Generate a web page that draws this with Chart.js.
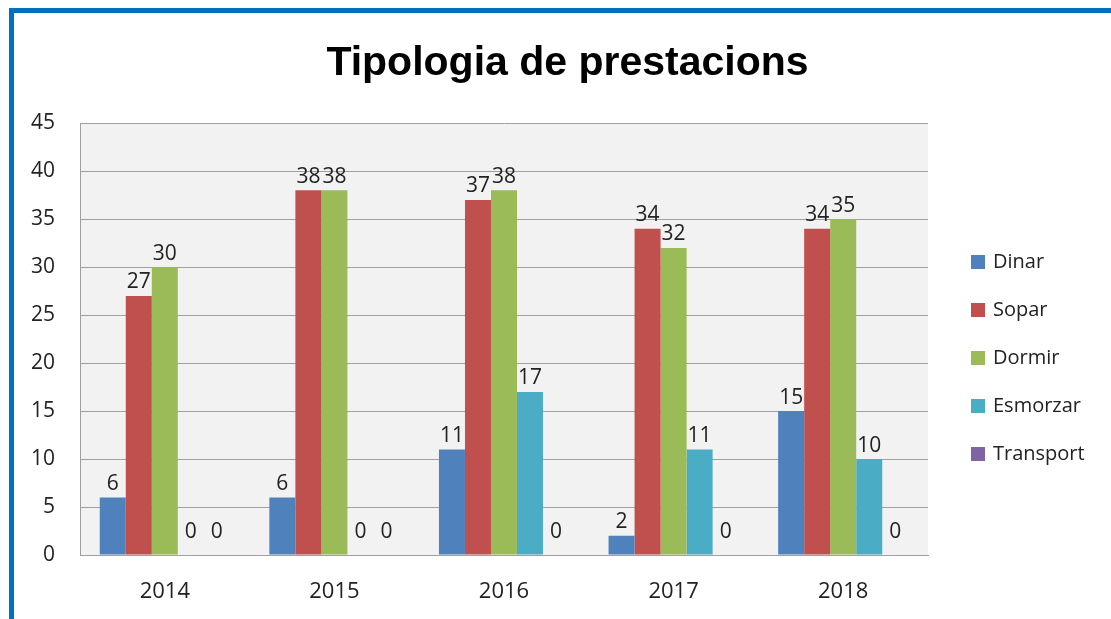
<!DOCTYPE html>
<html>
<head>
<meta charset="utf-8">
<script src="https://cdn.jsdelivr.net/npm/chart.js@4.4.1/dist/chart.umd.min.js"></script>
<style>
body{margin:0;background:#fff;overflow:hidden}
#frame{position:absolute;left:9px;top:8px;right:-10px;bottom:-10px;border-left:5px solid #0070c0;border-top:5px solid #0070c0}
canvas{position:absolute;left:0;top:0}
</style>
</head>
<body>
<div id="frame"></div>
<canvas id="myChart" width="1111" height="619"></canvas>
<script>
let years = ['2014', '2015', '2016', '2017', '2018'];
let dinar = [6, 6, 11, 2, 15];
let sopar = [27, 38, 37, 34, 34];
let dormir = [30, 38, 38, 32, 35];
let esmorzar = [0, 0, 17, 11, 10];
let transport = [0, 0, 0, 0, 0];
let seriesNames = ['Dinar', 'Sopar', 'Dormir', 'Esmorzar', 'Transport'];
let seriesColors = ['#4f81bd', '#c0504d', '#9bbb59', '#4bacc6', '#8064a2'];

const font = "'Open Sans', 'Liberation Sans', sans-serif";

// gray plot background
const plotBg = {
    id: 'plotBg',
    beforeDraw(chart) {
        const a = chart.chartArea;
        const c = chart.ctx;
        c.save();
        c.fillStyle = '#f2f2f2';
        c.fillRect(a.left, a.top, a.right - a.left, a.bottom - a.top);
        c.restore();
    }
};

// title spans the whole frame, not just the plot
const wideTitle = {
    id: 'wideTitle',
    afterLayout(chart) {
        chart.titleBlock.left = 24;
        chart.titleBlock.right = chart.width;
    }
};

// value labels above each bar
const valueLabels = {
    id: 'valueLabels',
    afterDatasetsDraw(chart) {
        const c = chart.ctx;
        c.save();
        c.font = '21px ' + font;
        c.fillStyle = '#222';
        c.textAlign = 'center';
        c.textBaseline = 'bottom';
        chart.data.datasets.forEach((ds, i) => {
            chart.getDatasetMeta(i).data.forEach((bar, j) => {
                let lift = ds.data[j] === 0 ? 12 : 3;
                c.fillText(ds.data[j], bar.x, bar.y - lift);
            });
        });
        c.restore();
    }
};

// legend on the right
const sideLegend = {
    id: 'sideLegend',
    afterDraw(chart) {
        const c = chart.ctx;
        c.save();
        c.font = '20px ' + font;
        c.textBaseline = 'middle';
        chart.data.datasets.forEach((ds, i) => {
            let y = 262 + i * 48;
            c.fillStyle = ds.backgroundColor;
            c.fillRect(971, y - 7, 14, 14);
            c.fillStyle = '#222';
            c.fillText(ds.label, 993, y);
        });
        c.restore();
    }
};

let allData = [dinar, sopar, dormir, esmorzar, transport];

new Chart(document.getElementById('myChart'), {
    type: 'bar',
    data: {
        labels: years,
        datasets: allData.map((d, i) => ({
            label: seriesNames[i],
            data: d,
            backgroundColor: seriesColors[i],
            categoryPercentage: 0.767,
            barPercentage: 1
        }))
    },
    options: {
        responsive: false,
        animation: false,
        layout: { padding: { left: 0, right: 183, top: 0, bottom: 0 } },
        plugins: {
            legend: { display: false },
            tooltip: { enabled: false },
            title: {
                display: true,
                text: 'Tipologia de prestacions',
                color: '#000',
                font: { family: "'Liberation Sans', sans-serif", size: 41, weight: 'bold' },
                padding: { top: 39, bottom: 35 }
            }
        },
        scales: {
            x: {
                grid: { display: false },
                border: { color: '#a0a0a0' },
                ticks: { color: '#222', font: { family: font, size: 22 }, padding: 16 },
                afterFit(scale) { scale.height = 64; }
            },
            y: {
                min: 0,
                max: 45,
                ticks: { stepSize: 5, color: '#222', font: { family: font, size: 21 }, padding: 25 },
                grid: { color: '#a0a0a0', drawTicks: false },
                border: { color: '#a0a0a0' },
                afterFit(scale) { scale.width = 80; }
            }
        }
    },
    plugins: [plotBg, wideTitle, valueLabels, sideLegend]
});
</script>
</body>
</html>
